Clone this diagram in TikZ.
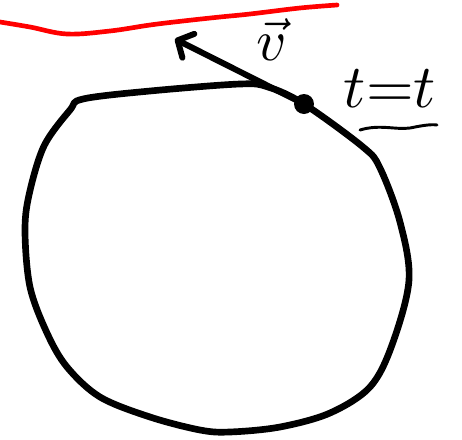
\documentclass[tikz,border=0pt]{standalone}
\usepackage{xcolor}
\usetikzlibrary{arrows.meta}
\definecolor{inkred}{HTML}{FF0000}

\begin{document}
\begin{tikzpicture}[
  x=0.75pt,y=-0.75pt,
  outline/.style={line width=5pt,line cap=round,line join=round},
  tangent/.style={line width=4.5pt,line cap=round,line join=round,
    -{Straight Barb[length=9pt,width=20pt,round]}},
  edge/.style={inkred,line width=3.5pt,line cap=round},
  every node/.style={inner sep=0pt}
]
  \useasboundingbox (0,0) rectangle (462,440);
  % red boundary at the top
  \draw[edge] plot[smooth,tension=0.6] coordinates
    {(0,22) (30,27) (67,34) (110,31) (150,25) (183,21) (220,17)
     (250,14) (300,8) (337,5)};
  % closed orbit
  \draw[outline] plot[smooth cycle,tension=0.55] coordinates
    {(83,99) (150,91) (240,84) (268,87) (304,104) (363,147) (380,168)
     (400,222) (409,280) (392,345) (370,387) (330,413) (280,427)
     (230,432) (200,430) (150,417) (100,397) (67,367) (47,333)
     (30,287) (25,232) (29,195) (44,146) (70,110)};
  \node[circle,fill,minimum size=15pt] (pt) at (304,104) {};
  \coordinate (tip) at (175,39);
  \draw[tangent] (pt.center) -- (tip);
  \node[scale=4.4] (vel) at (272,40) {$\vec{v}$};
  \node[scale=4.6] (time) at (390,89) {$t{=}t$};
  \draw[line width=2.2pt,line cap=round] (360,130)
    .. controls (380,124) and (395,130) .. (410,128)
    .. controls (420,126) and (430,124) .. (437,125);
\end{tikzpicture}
\end{document}
